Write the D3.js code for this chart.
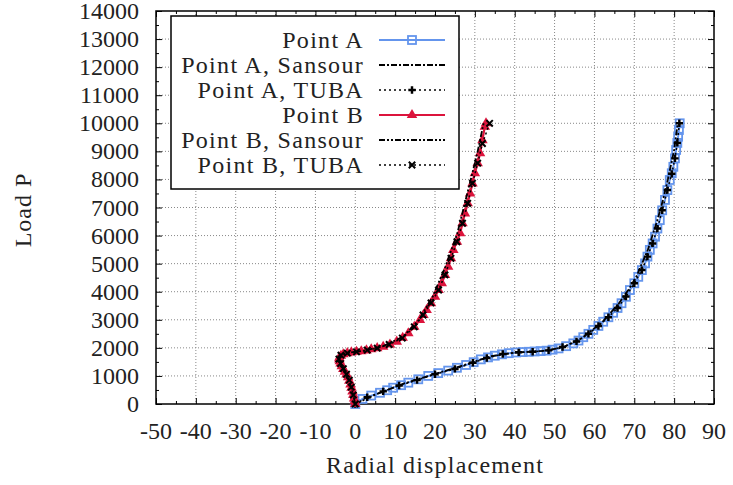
<!DOCTYPE html>
<html>
<head>
<meta charset="utf-8">
<script src="https://cdn.jsdelivr.net/npm/d3@7"></script>
<style>
  body { margin: 0; background: #fff; }
</style>
</head>
<body>
<div id="chart"></div>
<script>
// values: [radial displacement, load P]
var pointA = [[0,0],[1.8,180],[4,300],[6.2,400],[8,490],[9.5,580],[11.5,670],[13.3,760],
  [15.8,880],[18.3,1000],[20.8,1100],[23.3,1190],[25.5,1290],[27.8,1390],[29.7,1490],
  [31.5,1590],[33.3,1660],[35,1720],[36.8,1770],[38.5,1810],[40.3,1835],[42,1850],
  [43.5,1860],[45,1870],[46.5,1885],[48,1900],[49.5,1935],[51,1980],[52.9,2060],[54.7,2160],
  [56,2260],[57.2,2380],[58.5,2500],[59.7,2640],[61,2780],[62.2,2930],[63.5,3090],
  [64.7,3250],[65.8,3420],[66.8,3590],[67.9,3820],[68.9,4060],[70,4300],[71,4530],
  [71.9,4770],[72.7,5010],[73.3,5250],[73.9,5490],[74.6,5720],[75.2,5960],[75.8,6250],
  [76.4,6550],[77,6900],[77.7,7270],[78.3,7620],[78.9,7980],[79.4,8220],[79.8,8450],
  [80.2,8750],[80.5,9050],[80.8,9300],[81,9520],[81.2,9760],[81.4,10000]];
var pointASansour = [[0,0],[5,330],[12,720],[20,1070],[28,1420],[34,1700],[40,1830],[47,1890],
  [52,2010],[57,2360],[62,2920],[66,3560],[68.5,4060],[70.5,4530],[73.4,5490],[75.8,6550],
  [77.2,7270],[78.4,7980],[80,9050],[80.9,10000]];
var pointATuba = [[0,0],[3,240],[7,450],[11,660],[15.5,850],[20,1060],[25,1250],[29.5,1470],
  [33,1640],[37,1780],[41,1840],[44.5,1860],[48.5,1910],[52,2030],[55.5,2230],[58.5,2500],
  [61,2780],[63.5,3090],[65.8,3420],[67.9,3830],[70,4300],[71.9,4770],[73.3,5250],[74.6,5720],
  [75.8,6250],[77,6900],[78.3,7620],[79.4,8200],[80.2,8750],[80.8,9300],[81.3,10000]];

var pointB = [[0,0],[-0.15,100],[-0.3,200],[-0.5,330],[-0.7,450],[-0.95,580],[-1.2,700],
  [-1.5,830],[-1.8,950],[-2.2,1050],[-2.6,1150],[-3,1250],[-3.4,1350],[-3.7,1440],
  [-3.9,1520],[-4,1590],[-4,1650],[-3.6,1720],[-3,1770],[-2,1810],[-1,1840],[0.3,1860],
  [1.5,1880],[2.8,1910],[4,1950],[5.5,1990],[7,2040],[8.7,2120],[10.4,2220],[11.9,2360],
  [13.3,2520],[14.8,2750],[16.2,2990],[17.1,3170],[17.9,3350],[19,3590],[20,3820],
  [20.9,4060],[21.7,4300],[22.5,4600],[23.3,4890],[24,5190],[24.6,5490],[25.5,5780],
  [26.3,6080],[26.9,6440],[27.5,6790],[28.2,7150],[28.8,7500],[29.4,7860],[30,8220],
  [30.7,8580],[31.3,8930],[31.9,9400],[32.5,9880],[32.8,10000]];
var pointBSansour = [[0,0],[-1,600],[-2.4,1100],[-3.8,1500],[-4.2,1700],[-2,1820],[2,1890],
  [7,2060],[12,2400],[16,3000],[19.4,3820],[22.6,4890],[25.6,6080],[28.1,7500],[30.6,8930],
  [32.2,10000]];
var pointBTuba = [[0,0],[-0.5,320],[-1,600],[-1.5,850],[-2.2,1060],[-3,1260],[-3.7,1440],
  [-4.1,1600],[-3.6,1740],[-2,1810],[0.3,1860],[3,1920],[5.5,1990],[8.5,2120],[11.8,2350],
  [14.8,2750],[17,3170],[19,3600],[20.9,4060],[22.5,4600],[24,5190],[25.5,5780],[26.9,6440],
  [28.2,7150],[29.4,7860],[30.7,8580],[31.9,9280],[33.7,10000]];

var seriesNames = ["Point A", "Point A, Sansour", "Point A, TUBA", "Point B", "Point B, Sansour", "Point B, TUBA"];
var xTicks = d3.range(-50, 91, 10);
var yTicks = d3.range(0, 14001, 1000);

var width = 733, height = 485;
var margin = {top: 11, right: 19, bottom: 81, left: 156};
var innerW = width - margin.left - margin.right,
    innerH = height - margin.top - margin.bottom;
var FONT = "Liberation Serif";

var x = d3.scaleLinear().domain([-50, 90]).range([0, innerW]);
var y = d3.scaleLinear().domain([0, 14000]).range([innerH, 0]);

var svg = d3.select("#chart").append("svg")
  .attr("width", width).attr("height", height);
var g = svg.append("g")
  .attr("transform", "translate(" + margin.left + "," + margin.top + ")");

// grid
g.append("g").selectAll("line").data(xTicks.slice(1, -1)).enter().append("line")
  .attr("x1", function(d) { return x(d); }).attr("x2", function(d) { return x(d); })
  .attr("y1", 0).attr("y2", innerH)
  .attr("stroke", "#888").attr("stroke-width", 1).attr("stroke-dasharray", "1,2");
g.append("g").selectAll("line").data(yTicks.slice(1, -1)).enter().append("line")
  .attr("y1", function(d) { return y(d); }).attr("y2", function(d) { return y(d); })
  .attr("x1", 0).attr("x2", innerW)
  .attr("stroke", "#888").attr("stroke-width", 1).attr("stroke-dasharray", "1,2");

// ticks on all four sides, pointing in
function tickAxis(axis, transform) {
  var a = g.append("g").attr("transform", transform).call(axis);
  a.select(".domain").remove();
  a.selectAll("text").remove();
  a.selectAll("line").attr("stroke", "#000");
}
var xMinor = d3.range(-45, 90, 10), yMinor = d3.range(500, 14000, 1000);
tickAxis(d3.axisBottom(x).tickValues(xTicks).tickSizeInner(-6), "translate(0," + innerH + ")");
tickAxis(d3.axisBottom(x).tickValues(xMinor).tickSizeInner(-3), "translate(0," + innerH + ")");
tickAxis(d3.axisTop(x).tickValues(xTicks).tickSizeInner(-6), "translate(0,0)");
tickAxis(d3.axisTop(x).tickValues(xMinor).tickSizeInner(-3), "translate(0,0)");
tickAxis(d3.axisLeft(y).tickValues(yTicks).tickSizeInner(-6), "translate(0,0)");
tickAxis(d3.axisLeft(y).tickValues(yMinor).tickSizeInner(-3), "translate(0,0)");
tickAxis(d3.axisRight(y).tickValues(yTicks).tickSizeInner(-6), "translate(" + innerW + ",0)");
tickAxis(d3.axisRight(y).tickValues(yMinor).tickSizeInner(-3), "translate(" + innerW + ",0)");

// tick labels
g.append("g").selectAll("text").data(xTicks).enter().append("text")
  .attr("x", function(d) { return x(d); }).attr("y", innerH + 35)
  .attr("text-anchor", "middle").attr("fill", "#222")
  .style("font-family", FONT).style("font-size", "24px")
  .text(function(d) { return d; });
g.append("g").selectAll("text").data(yTicks).enter().append("text")
  .attr("x", -17).attr("y", function(d) { return y(d) + 8; })
  .attr("text-anchor", "end").attr("fill", "#222")
  .style("font-family", FONT).style("font-size", "24px")
  .text(function(d) { return d; });

// frame
g.append("rect").attr("width", innerW).attr("height", innerH)
  .attr("fill", "none").attr("stroke", "#000").attr("stroke-width", 1.5);

// axis titles
svg.append("text").attr("x", margin.left + innerW / 2).attr("y", 473)
  .attr("text-anchor", "middle").attr("fill", "#222")
  .style("font-family", FONT).style("font-size", "24px").style("letter-spacing", "1.2px")
  .text("Radial displacement");
svg.append("text").attr("transform", "translate(31,210) rotate(-90)")
  .attr("text-anchor", "middle").attr("fill", "#222")
  .style("font-family", FONT).style("font-size", "24px").style("letter-spacing", "1px")
  .text("Load P");

var line = d3.line().x(function(d) { return x(d[0]); }).y(function(d) { return y(d[1]); });

var styles = [
  {data: pointA, color: "#6495ed", width: 2, dash: null, marker: "square"},
  {data: pointASansour, color: "#000", width: 1.8, dash: "6,2,2,2", marker: null},
  {data: pointATuba, color: "#000", width: 1.5, dash: "2,3", marker: "plus"},
  {data: pointB, color: "#dc143c", width: 2.2, dash: null, marker: "triangle"},
  {data: pointBSansour, color: "#000", width: 1.8, dash: "6,2,2,2,2,2", marker: null},
  {data: pointBTuba, color: "#000", width: 1.5, dash: "2,3", marker: "times"}
];

function drawMarker(sel, kind, color) {
  if (kind === "square") {
    sel.append("rect").attr("x", -4).attr("y", -4).attr("width", 8).attr("height", 8)
      .attr("fill", "none").attr("stroke", color).attr("stroke-width", 1.8);
  } else if (kind === "triangle") {
    sel.append("path").attr("d", d3.symbol().type(d3.symbolTriangle).size(48)())
      .attr("fill", color);
  } else if (kind === "plus") {
    sel.append("path").attr("d", d3.symbol().type(d3.symbolCross).size(30)())
      .attr("fill", color);
  } else if (kind === "times") {
    sel.append("path").attr("d", "M-3.2,-3.2L3.2,3.2M-3.2,3.2L3.2,-3.2")
      .attr("stroke", color).attr("stroke-width", 2);
  }
}

var plot = g.append("g");
styles.forEach(function(s) {
  plot.append("path").datum(s.data).attr("d", line)
    .attr("fill", "none").attr("stroke", s.color).attr("stroke-width", s.width)
    .attr("stroke-dasharray", s.dash);
  if (s.marker) {
    plot.append("g").selectAll("g").data(s.data).enter().append("g")
      .attr("transform", function(d) { return "translate(" + x(d[0]) + "," + y(d[1]) + ")"; })
      .each(function() { drawMarker(d3.select(this), s.marker, s.color); });
  }
});

// legend
var legend = svg.append("g").attr("transform", "translate(171,16)");
legend.append("rect").attr("width", 288).attr("height", 173)
  .attr("fill", "#fff").attr("stroke", "#000").attr("stroke-width", 1.5);
var rows = legend.selectAll("g.row").data(styles).enter().append("g")
  .attr("class", "row")
  .attr("transform", function(d, i) { return "translate(0," + (24 + i * 25) + ")"; });
rows.append("text").attr("x", 193).attr("y", 8).attr("text-anchor", "end")
  .attr("fill", "#222")
  .style("font-family", FONT).style("font-size", "24px").style("letter-spacing", "1.3px")
  .text(function(d, i) { return seriesNames[i]; });
rows.append("line").attr("x1", 208).attr("x2", 274)
  .attr("stroke", function(d) { return d.color; })
  .attr("stroke-width", function(d) { return d.width; })
  .attr("stroke-dasharray", function(d) { return d.dash; });
rows.each(function(d) {
  if (d.marker) {
    var m = d3.select(this).append("g").attr("transform", "translate(241,0)");
    drawMarker(m, d.marker, d.color);
  }
});
</script>
</body>
</html>
